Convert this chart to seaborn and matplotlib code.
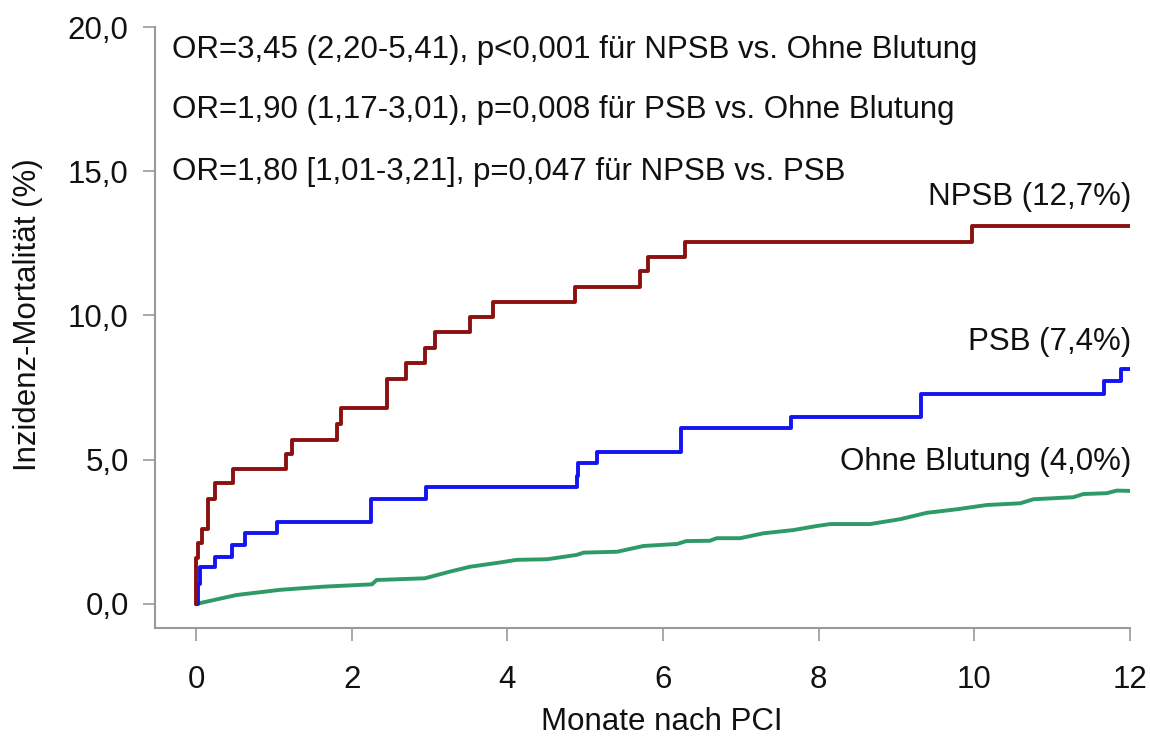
import pandas as pd
import matplotlib
matplotlib.use("Agg")
import matplotlib.pyplot as plt
import seaborn as sns

# Kaplan-Meier style cumulative incidence (months, %)
npsb_months = [0, 0.005, 0.03, 0.08, 0.16, 0.24, 0.48, 1.16, 1.23, 1.81, 1.86, 2.45, 2.70,
               2.94, 3.07, 3.52, 3.82, 4.87, 5.71, 5.81, 6.28, 9.97, 12.0]
npsb_pct = [0, 1.6, 2.1, 2.59, 3.63, 4.2, 4.67, 5.2, 5.68, 6.24, 6.78, 7.8, 8.36,
            8.88, 9.43, 9.96, 10.48, 11.0, 11.55, 12.04, 12.56, 13.11, 13.11]

psb_months = [0, 0.03, 0.05, 0.24, 0.46, 0.63, 1.04, 2.25, 2.96, 4.89, 4.91, 5.15, 6.23,
              7.65, 9.31, 11.67, 11.89, 12.0]
psb_pct = [0, 0.7, 1.27, 1.64, 2.04, 2.45, 2.83, 3.63, 4.04, 4.44, 4.88, 5.26, 6.11,
           6.49, 7.28, 7.74, 8.15, 8.15]

ohne_months = [0, 0.52, 1.08, 1.64, 2.26, 2.32, 2.94, 3.26, 3.52, 3.91, 4.12, 4.51, 4.89,
               4.98, 5.41, 5.75, 6.18, 6.30, 6.60, 6.69, 6.99, 7.29, 7.67, 7.97, 8.15,
               8.66, 9.05, 9.39, 9.77, 10.16, 10.59, 10.76, 11.27, 11.40, 11.70, 11.83, 12.0]
ohne_pct = [0, 0.31, 0.49, 0.60, 0.68, 0.83, 0.89, 1.12, 1.29, 1.44, 1.53, 1.55, 1.70,
            1.78, 1.81, 2.01, 2.08, 2.18, 2.19, 2.28, 2.28, 2.45, 2.56, 2.70, 2.77,
            2.77, 2.94, 3.16, 3.28, 3.43, 3.49, 3.63, 3.70, 3.81, 3.84, 3.93, 3.92]

x_ticks = [0, 2, 4, 6, 8, 10, 12]
y_ticks = [0, 5, 10, 15, 20]
y_tick_labels = ["0,0", "5,0", "10,0", "15,0", "20,0"]

curve_labels = ["NPSB (12,7%)", "PSB (7,4%)", "Ohne Blutung (4,0%)"]
stats_lines = [
    "OR=3,45 (2,20-5,41), p<0,001 für NPSB vs. Ohne Blutung",
    "OR=1,90 (1,17-3,01), p=0,008 für PSB vs. Ohne Blutung",
    "OR=1,80 [1,01-3,21], p=0,047 für NPSB vs. PSB",
]

# Set up the style
sns.set_style("ticks")
plt.rcParams["font.family"] = ["Liberation Sans", "DejaVu Sans"]
FS = 22.5

fig = plt.figure(figsize=(11.5, 7.4), dpi=100)
ax = fig.add_axes([0.1348, 0.1514, 0.8478, 0.8121])

red = "#8b1010"
blue = "#1414f0"
green = "#2e9a68"

npsb = pd.DataFrame({"month": npsb_months, "pct": npsb_pct})
psb = pd.DataFrame({"month": psb_months, "pct": psb_pct})
ohne = pd.DataFrame({"month": ohne_months, "pct": ohne_pct})

sns.lineplot(data=ohne, x="month", y="pct", ax=ax, color=green, linewidth=2.8,
             estimator=None, sort=False)
sns.lineplot(data=psb, x="month", y="pct", ax=ax, color=blue, linewidth=2.8,
             drawstyle="steps-post", estimator=None, sort=False)
sns.lineplot(data=npsb, x="month", y="pct", ax=ax, color=red, linewidth=2.8,
             drawstyle="steps-post", estimator=None, sort=False)

# Axes limits and ticks
ax.set_xlim(-0.527, 12)
ax.set_ylim(-0.832, 20)
ax.set_xticks(x_ticks)
ax.set_xticklabels([str(t) for t in x_ticks])
ax.set_yticks(y_ticks)
ax.set_yticklabels(y_tick_labels)
ax.tick_params(axis="both", labelsize=FS, length=9, width=1.2, color="#9a9a9a",
               labelcolor="#111111")
ax.tick_params(axis="x", pad=18)
ax.tick_params(axis="y", pad=10)

for side in ["top", "right"]:
    ax.spines[side].set_visible(False)
for side in ["left", "bottom"]:
    ax.spines[side].set_color("#9a9a9a")
    ax.spines[side].set_linewidth(1.5)

# Labels
ax.set_xlabel("Monate nach PCI", fontsize=FS, color="#111111")
ax.xaxis.set_label_coords(0.52, -0.131)
ax.set_ylabel("Inzidenz-Mortalität (%)", fontsize=FS, color="#111111")
ax.yaxis.set_label_coords(-0.115, 0.522)

# Odds ratio annotations
for text, y in zip(stats_lines, [19.2, 17.12, 14.97]):
    ax.text(-0.31, y, text, fontsize=FS, ha="left", va="center", color="#111111")

# Curve labels
for text, y in zip(curve_labels, [14.1, 9.08, 4.92]):
    ax.text(12.02, y, text, fontsize=FS, ha="right", va="center", color="#111111",
            clip_on=False)

plt.savefig("out.png", dpi=100)
plt.close()
